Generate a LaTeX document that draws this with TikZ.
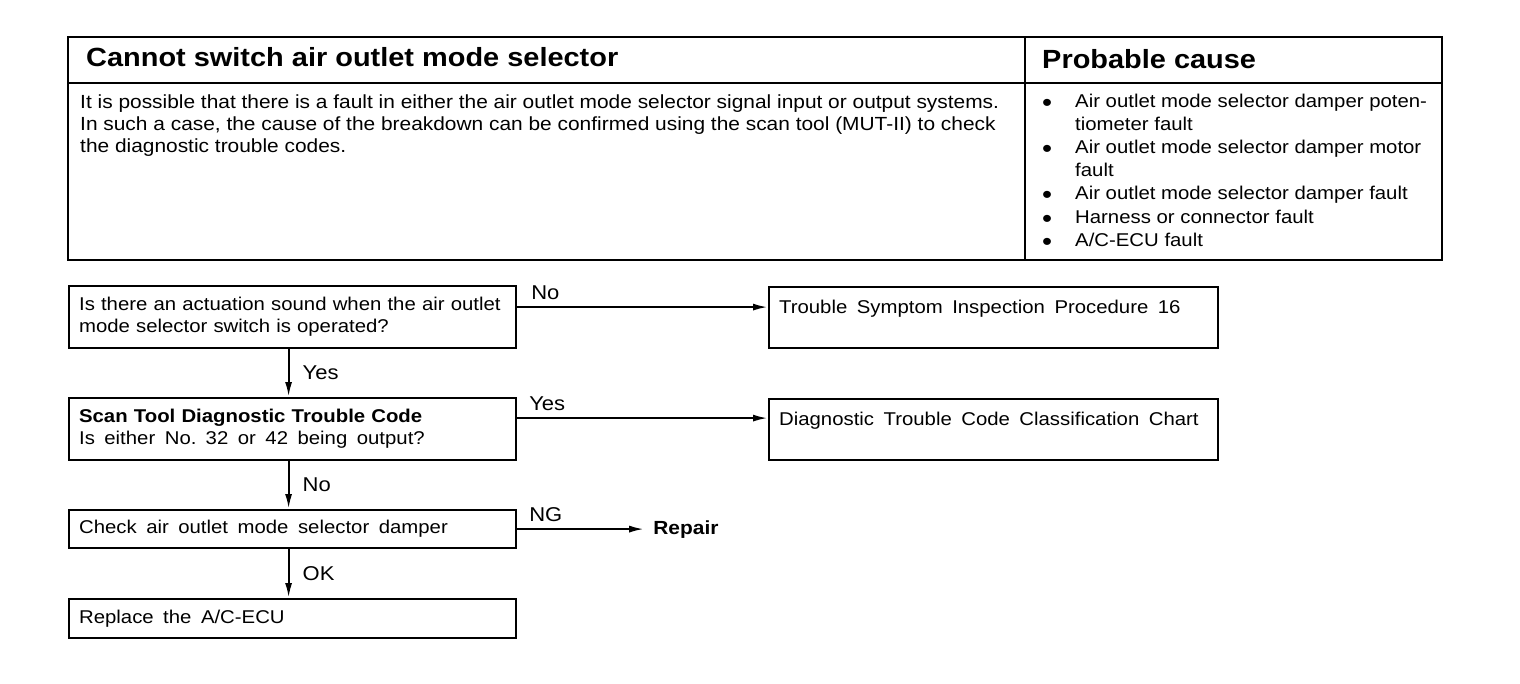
\documentclass[tikz,border=0pt]{standalone}
\usepackage{fontspec}
\setmainfont[FakeStretch=1.1]{Liberation Sans}
\usetikzlibrary{arrows.meta,positioning}
\newcommand\widegaps{\spaceskip=9.5pt plus 2pt\relax}

\begin{document}
\begin{tikzpicture}[x=1pt,y=-1pt,
    box/.style={draw,line width=2.2pt,anchor=north west,align=left,inner xsep=10pt,
      font=\fontsize{18.5}{22}\selectfont},
    lbl/.style={font=\fontsize{20}{22}\selectfont,inner sep=0pt},
    flow/.style={line width=2.2pt,-{Latex[length=15pt,width=7pt]}},
    txt/.style={inner sep=0pt,anchor=base west,font=\fontsize{18.5}{22.5}\selectfont},
    head/.style={inner sep=0pt,anchor=base west,font=\fontsize{26.3}{28}\bfseries}]
  \useasboundingbox (0,0) rectangle (1520,684);

  % table on top
  \draw[line width=2.2pt] (68,37) rectangle (1442,260);
  \draw[line width=1.6pt] (68,83) -- (1442,83);
  \draw[line width=1.6pt] (1025,37) -- (1025,260);
  \node[head] (title) at (86,67) {Cannot switch air outlet mode selector};
  \node[head] (cause) at (1042,69) {Probable cause};
  \foreach \y/\t in {109/{It is possible that there is a fault in either the air outlet mode selector signal input or output systems.},
      131/{In such a case, the cause of the breakdown can be confirmed using the scan tool (MUT-II) to check},
      153/{the diagnostic trouble codes.}}
    \node[txt,font=\fontsize{19}{22.5}\selectfont] at (80,\y) {\t};
  \foreach \y in {108,154,200,224,247}
    \node[txt] at (1042,\y+4) {\fontsize{26}{26}\selectfont\textbullet};
  \foreach \y/\t in {108/{Air outlet mode selector damper poten-},131/{tiometer fault},
      154/{Air outlet mode selector damper motor},177/{fault},
      200/{Air outlet mode selector damper fault},224/{Harness or connector fault},
      247/{A/C-ECU fault}}
    \node[txt] at (1075,\y) {\t};

  % flow chart
  \node[box,text width=427pt,minimum height=62pt] (sound) at (68,285)
    {Is there an actuation sound when the air outlet\\mode selector switch is operated?};
  \node[box,text width=429pt,minimum height=61pt] (proc) at (768,286)
    {\widegaps Trouble Symptom Inspection Procedure 16\\\mbox{}};
  \node[box,text width=427pt,minimum height=62pt] (scan) at (68,397)
    {\textbf{Scan Tool Diagnostic Trouble Code}\\\widegaps Is either No. 32 or 42 being output?};
  \node[box,text width=429pt,minimum height=61pt] (chart) at (768,398)
    {\widegaps Diagnostic Trouble Code Classification Chart\\\mbox{}};
  \node[box,text width=427pt,minimum height=38pt] (damper) at (68,509)
    {\widegaps Check air outlet mode selector damper};
  \node[font=\fontsize{19}{22}\bfseries,inner sep=0pt,right=136pt of damper] (repair) {Repair};
  \node[box,text width=427pt,minimum height=39pt] (ecu) at (68,598)
    {\widegaps Replace the A/C-ECU};

  \draw[flow] ([yshift=10pt]sound.east) -- ([yshift=10pt]sound.east -| proc.west)
    node[lbl,at start,anchor=south west,xshift=13pt,yshift=6pt] {No};
  \draw[flow] ([yshift=11pt]scan.east) -- ([yshift=11pt]scan.east -| chart.west)
    node[lbl,at start,anchor=south west,xshift=11pt,yshift=6pt] {Yes};
  \draw[flow] (damper.east) -- ([xshift=-9pt]repair.west)
    node[lbl,at start,anchor=south west,xshift=11pt,yshift=6pt] {NG};
  \draw[flow] ([xshift=-4pt]sound.south) -- ([xshift=-4pt]scan.north)
    node[lbl,midway,anchor=west,xshift=13pt] {Yes};
  \draw[flow] ([xshift=-4pt]scan.south) -- ([xshift=-4pt]damper.north)
    node[lbl,midway,anchor=west,xshift=13pt] {No};
  \draw[flow] ([xshift=-4pt]damper.south) -- ([xshift=-4pt]ecu.north)
    node[lbl,midway,anchor=west,xshift=13pt] {OK};
\end{tikzpicture}
\end{document}
